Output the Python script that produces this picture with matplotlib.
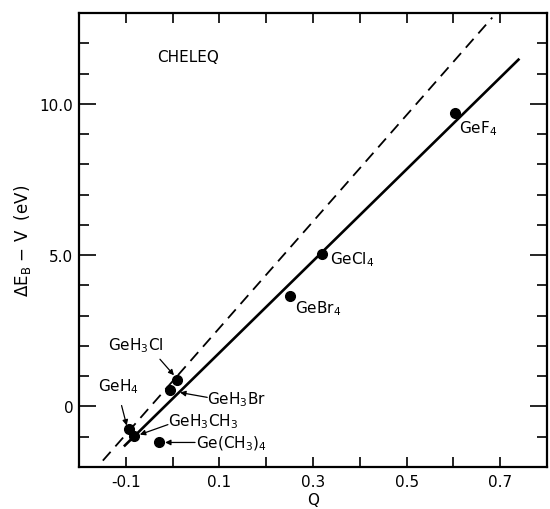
import matplotlib
matplotlib.use("Agg")
import matplotlib.pyplot as plt
from matplotlib.ticker import FixedLocator, MultipleLocator

plt.rcParams['font.family'] = ['DejaVu Sans']
plt.rcParams['mathtext.default'] = 'regular'

# data
names = ["GeF$_4$", "GeCl$_4$", "GeBr$_4$", "GeH$_3$Cl", "GeH$_3$Br",
         "GeH$_4$", "GeH$_3$CH$_3$", "Ge(CH$_3$)$_4$"]
q = [0.603, 0.319, 0.251, 0.010, -0.005, -0.094, -0.083, -0.029]
de = [9.70, 5.03, 3.64, 0.86, 0.56, -0.76, -0.96, -1.19]

# label positions (left edge, centre)
label_q = [0.612, 0.337, 0.261, -0.139, 0.074, -0.160, -0.010, 0.051]
label_e = [9.20, 4.87, 3.28, 2.05, 0.26, 0.70, -0.46, -1.19]

# arrows: tail -> head, None where the label has no arrow
arrow_tail = [None, None, None, (-0.027, 1.56), (0.074, 0.30),
              (-0.109, 0.03), (-0.010, -0.60), (0.048, -1.19)]
arrow_head = [None, None, None, (0.003, 1.03), (0.016, 0.46),
              (-0.098, -0.63), (-0.070, -0.93), (-0.016, -1.19)]

fit_q = [-0.102, 0.739]
fit_e = [-1.29, 11.46]
dash_q = [-0.149, 0.683]
dash_e = [-1.79, 12.85]

fig = plt.figure(figsize=(5.5, 5.1), dpi=100)
ax = fig.add_axes([0.1436, 0.0824, 0.851, 0.8901])

ax.plot(fit_q, fit_e, 'k-', lw=1.9)
ax.plot(dash_q, dash_e, 'k-', lw=1.3, dashes=(6.5, 4))
ax.plot(q, de, 'ko', ms=7)

for i in range(len(names)):
    ax.text(label_q[i], label_e[i], names[i], fontsize=11,
            ha='left', va='center')
    if arrow_tail[i] is not None:
        ax.annotate('', xy=arrow_head[i], xytext=arrow_tail[i],
                    arrowprops=dict(arrowstyle='-|>', color='k', lw=0.9,
                                    mutation_scale=8, shrinkA=0, shrinkB=0))

ax.text(-0.033, 11.56, "CHELEQ", fontsize=11, ha='left', va='center')

ax.set_xlim(-0.2, 0.8)
ax.set_ylim(-2, 13)

ax.xaxis.set_major_locator(FixedLocator([-0.1, 0.1, 0.3, 0.5, 0.7]))
ax.xaxis.set_minor_locator(FixedLocator([0.0, 0.2, 0.4, 0.6]))
ax.set_xticklabels(["-0.1", "0.1", "0.3", "0.5", "0.7"])
ax.yaxis.set_major_locator(FixedLocator([0, 5, 10]))
ax.yaxis.set_minor_locator(MultipleLocator(1))
ax.set_yticklabels(["0", "5.0", "10.0"])

ax.tick_params(axis='both', which='both', direction='in', top=True,
               right=True, width=1.2, labelsize=11)
ax.tick_params(axis='x', which='both', length=7, pad=5)
ax.tick_params(axis='y', which='major', length=12, pad=4)
ax.tick_params(axis='y', which='minor', length=7)
for s in ax.spines.values():
    s.set_linewidth(1.6)

ax.set_xlabel("Q", fontsize=11, labelpad=2)
ax.set_ylabel("ΔE$_B$ − V  (eV)", fontsize=12, labelpad=5)

fig.savefig("out.png", dpi=100)
